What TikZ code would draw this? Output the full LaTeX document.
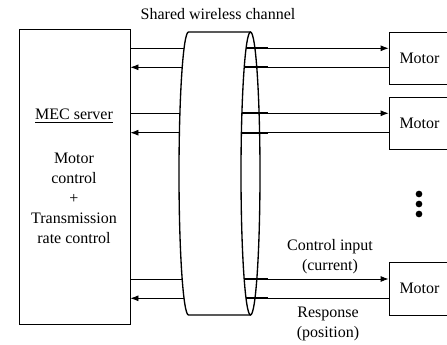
\documentclass[tikz,border=0pt]{standalone}
\usepackage{fontspec}
\setmainfont{Liberation Serif}
\usetikzlibrary{arrows.meta}
\begin{document}
\begin{tikzpicture}[x=0.75pt,y=-0.75pt,
  font=\fontsize{12}{15}\selectfont,
  box/.style={draw, line width=0.6pt, inner sep=0pt},
  link/.style={line width=0.6pt},
  seg/.style={line width=1.5pt},
  tip/.style={-{Latex[length=6pt,width=4.5pt]}},
  chan/.style={line width=1pt},
  label/.style={align=center, inner sep=0pt}]
\clip (0,0) rectangle (447,345);

% server and motors
\node[box, minimum width=83.25pt, minimum height=221pt] (mec) at (74.5,176.6) {};
\node[box, minimum width=45.75pt, minimum height=38.8pt] (m1) at (419.5,58.15) {Motor};
\node[box, minimum width=45.75pt, minimum height=38.5pt] (m2) at (419.5,123.35) {Motor};
\node[box, minimum width=45.75pt, minimum height=39.75pt] (m3) at (419.5,288.5) {Motor};

\node[label] (srv) at (74,116) {\underline{MEC server}};
\node[label] (ctl) at (74,198) {Motor\\control\\+\\Transmission\\rate control};

% shared wireless channel (cylinder)
\draw[chan] (250.5,32) -- (188.5,32)
  arc[start angle=90, end angle=270, x radius=7.125pt, y radius=106.125pt] -- (250.5,315);
\draw[chan] (250.5,173.5) ellipse [x radius=7.125pt, y radius=106.125pt];
\node[label] (title) at (218,14) {Shared wireless channel};

% downlink: control inputs
\foreach \y/\m in {48.3/m1, 113.3/m2, 279/m3}{
  \pgfmathsetmacro\f{9.5*sqrt(1-((\y-173.5)/141.5)*((\y-173.5)/141.5))}
  \coordinate (L) at ({188.5-\f},\y);
  \coordinate (R) at ({250.5-\f},\y);
  \coordinate (T) at (268,\y);
  \draw[link] (mec.east |- 0,\y) -- (L);
  \draw[seg] (R) -- (T);
  \draw[link, tip] (T) -- (\m.west |- 0,\y);
}
% uplink: responses
\foreach \y/\m in {67.3/m1, 132.7/m2, 298.3/m3}{
  \pgfmathsetmacro\f{9.5*sqrt(1-((\y-173.5)/141.5)*((\y-173.5)/141.5))}
  \coordinate (L) at ({188.5-\f},\y);
  \coordinate (R) at ({250.5-\f},\y);
  \coordinate (T) at (268,\y);
  \draw[link] (\m.west |- 0,\y) -- (T);
  \draw[seg] (T) -- (R);
  \draw[link, tip] (L) -- (mec.east |- 0,\y);
}

\node[label] (cin) at (330,257) {Control input\\(current)};
\node[label] (rsp) at (328,323.5) {Response\\(position)};

% more motors
\foreach \y in {194,204,214} \fill (419,\y) circle[radius=2.5pt];
\end{tikzpicture}
\end{document}
